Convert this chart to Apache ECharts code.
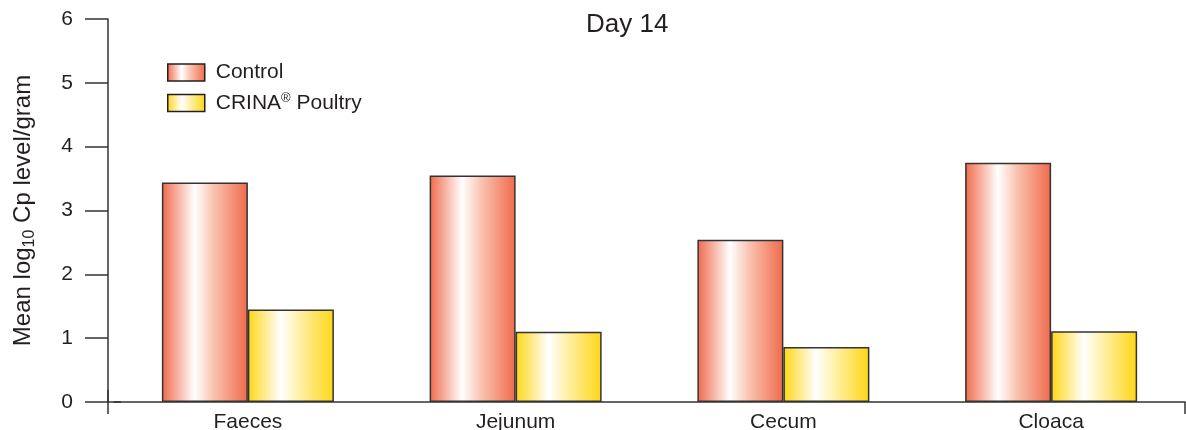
<!DOCTYPE html>
<html>
<head>
<meta charset="utf-8">
<script src="https://cdn.jsdelivr.net/npm/echarts@6/dist/echarts.min.js"></script>
<style>html,body{margin:0;padding:0;background:#fff;}#c{width:1186px;height:430px;}</style>
</head>
<body>
<div id="c"></div>
<script>
var categories = ['Faeces', 'Jejunum', 'Cecum', 'Cloaca'];
var controlValues = [3.44, 3.55, 2.54, 3.75];
var crinaValues = [1.45, 1.10, 0.86, 1.11];
var seriesNames = ['Control', 'CRINA® Poultry'];
var yTicks = [0, 1, 2, 3, 4, 5, 6];

var FONT = 'Liberation Sans, Arial, Helvetica, sans-serif';
var AX = '#333333';

function grad(edge, mid) {
  return new echarts.graphic.LinearGradient(0, 0, 1, 0, [
    {offset: 0, color: edge},
    {offset: 0.38, color: '#ffffff'},
    {offset: 0.6, color: mid},
    {offset: 1, color: edge}
  ]);
}
var redGrad = grad('#f06a4b', '#f9c3b0');
var yelGrad = grad('#ffd614', '#fff0a8');

// axis-line end decorations (box: 24 across the axis x 14 along it)
var startStub = 'path://M0,0 M24,14 M11.25,0 L12.75,0 L12.75,14 L11.25,14 Z';
var endTick = 'path://M0,0 M24,14 M12,6.25 L24,6.25 L24,7.75 L12,7.75 Z';

var chart = echarts.init(document.getElementById('c'), null, {renderer: 'canvas'});
chart.setOption({
  animation: false,
  backgroundColor: '#ffffff',
  title: {
    text: 'Day 14',
    left: 586, top: 12, padding: 0,
    textStyle: {fontFamily: FONT, fontSize: 26, fontWeight: 'normal', color: '#231f20'}
  },
  legend: {
    orient: 'vertical',
    left: 167, top: 62, padding: 0,
    itemWidth: 37, itemHeight: 17,
    itemGap: 9,
    icon: 'rect',
    data: seriesNames,
    formatter: function (n) {
      if (n === 'CRINA® Poultry') return '{t|CRINA}{r|®}{t| Poultry}';
      return '{t|' + n + '}';
    },
    textStyle: {
      fontFamily: FONT, fontSize: 21, color: '#231f20', padding: [0, 0, 0, 6],
      rich: {
        t: {fontFamily: FONT, fontSize: 21, color: '#231f20', lineHeight: 22, verticalAlign: 'middle'},
        r: {fontFamily: FONT, fontSize: 13, color: '#231f20', lineHeight: 22, verticalAlign: 'top'}
      }
    },
    itemStyle: {borderColor: '#231f20', borderWidth: 1.5}
  },
  grid: {left: 114, right: 1, top: 19, bottom: 28, containLabel: false, outerBoundsMode: 'none'},
  xAxis: {
    type: 'category',
    data: categories,
    boundaryGap: true,
    axisLine: {
      lineStyle: {color: AX, width: 1.5},
      symbol: [startStub, endTick],
      symbolSize: [24, 14]
    },
    axisTick: {show: false},
    axisLabel: {margin: 10, fontFamily: FONT, fontSize: 21, color: '#231f20'}
  },
  yAxis: {
    type: 'value',
    offset: 6,
    min: yTicks[0], max: yTicks[yTicks.length - 1], interval: 1,
    splitLine: {show: false},
    axisLine: {
      show: true,
      lineStyle: {color: AX, width: 1.5},
      symbol: ['rect', 'none'],
      symbolSize: [1.5, 24]
    },
    axisTick: {show: true, length: 23, lineStyle: {color: AX, width: 1.5}},
    axisLabel: {margin: 35, fontFamily: FONT, fontSize: 21, color: '#231f20'},
    name: '{a|Mean log}{b|10}{a| Cp level/gram}',
    nameLocation: 'middle',
    nameGap: 70,
    nameRotate: 90,
    nameTextStyle: {
      rich: {
        a: {fontFamily: FONT, fontSize: 24, color: '#231f20', lineHeight: 30, verticalAlign: 'middle'},
        b: {fontFamily: FONT, fontSize: 16, color: '#231f20', lineHeight: 30, verticalAlign: 'bottom'}
      }
    }
  },
  series: [
    {
      name: seriesNames[0], type: 'bar', data: controlValues,
      barWidth: 86, barGap: '0%',
      itemStyle: {color: redGrad, borderColor: '#333333', borderWidth: 1.5}
    },
    {
      name: seriesNames[1], type: 'bar', data: crinaValues,
      barWidth: 86, barGap: '0%',
      itemStyle: {color: yelGrad, borderColor: '#333333', borderWidth: 1.5}
    }
  ]
});
</script>
</body>
</html>
